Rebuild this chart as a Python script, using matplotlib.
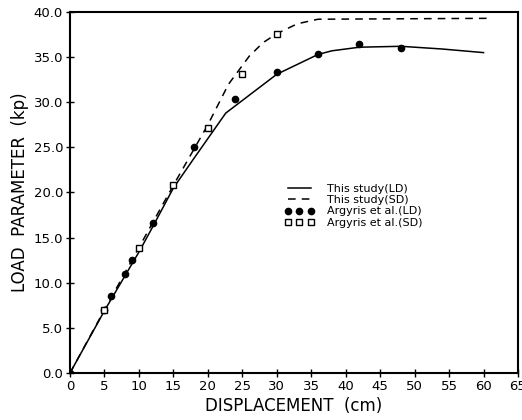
import matplotlib
matplotlib.use("Agg")
import matplotlib.pyplot as plt

# This study (LD) - solid line
ld_x = [0, 5, 10, 12, 15, 18, 22.6, 30, 36, 38, 42, 48, 54, 60]
ld_y = [0, 6.9, 13.4, 16.2, 20.5, 23.8, 28.8, 33.1, 35.3, 35.7, 36.1, 36.2, 35.9, 35.5]

# This study (SD) - dashed line
sd_x = [0, 5, 10, 15, 20, 23, 26, 28, 30, 33, 36, 61]
sd_y = [0, 7.0, 13.9, 20.8, 27.5, 32.0, 35.1, 36.6, 37.6, 38.7, 39.2, 39.3]

# Argyris et al. (LD) - filled circles
arg_ld_x = [0, 5, 6, 8, 9, 12, 18, 24, 30, 36, 42, 48]
arg_ld_y = [0, 7.0, 8.5, 11.0, 12.5, 16.6, 25.0, 30.4, 33.4, 35.4, 36.4, 36.0]

# Argyris et al. (SD) - open squares
arg_sd_x = [5, 10, 15, 20, 25, 30]
arg_sd_y = [7.0, 13.8, 20.8, 27.2, 33.1, 37.6]

x_ticks = list(range(0, 66, 5))
y_ticks = [0, 5, 10, 15, 20, 25, 30, 35, 40]

plt.rcParams['font.family'] = ['DejaVu Sans']
fig = plt.figure(figsize=(5.22, 4.20), dpi=100)
ax = fig.add_axes([70/522, 1 - 373/420, (518 - 70)/522, (373 - 12)/420])

ax.plot(ld_x, ld_y, '-', color='black', lw=1.1, label='This study(LD)')
ax.plot(sd_x, sd_y, '--', color='black', lw=1.1, dashes=(5, 4), label='This study(SD)')
ax.plot(arg_ld_x, arg_ld_y, 'o', color='black', ms=4.5, label='Argyris et al.(LD)')
ax.plot(arg_sd_x, arg_sd_y, 's', mfc='white', mec='black', mew=1.0, ms=4.5,
        label='Argyris et al.(SD)')

ax.set_xlim(0, 65)
ax.set_ylim(0, 40)
ax.set_xticks(x_ticks)
ax.set_xticklabels([str(v) for v in x_ticks])
ax.set_yticks(y_ticks)
ax.set_yticklabels([f"{v:.1f}" for v in y_ticks])
ax.tick_params(direction='inout', length=6, width=1, labelsize=9.5, pad=2)

for s in ax.spines.values():
    s.set_linewidth(1.5)

ax.set_xlabel('DISPLACEMENT  (cm)', fontsize=12, labelpad=3)
ax.set_ylabel('LOAD  PARAMETER  (kp)', fontsize=12, labelpad=3)

leg = ax.legend(loc='center left', bbox_to_anchor=(0.48, 0.463), frameon=False,
                fontsize=8, numpoints=3, handlelength=2.6, handletextpad=1.2,
                labelspacing=0.1, borderaxespad=0, borderpad=0)

fig.savefig('out.png', dpi=100)
